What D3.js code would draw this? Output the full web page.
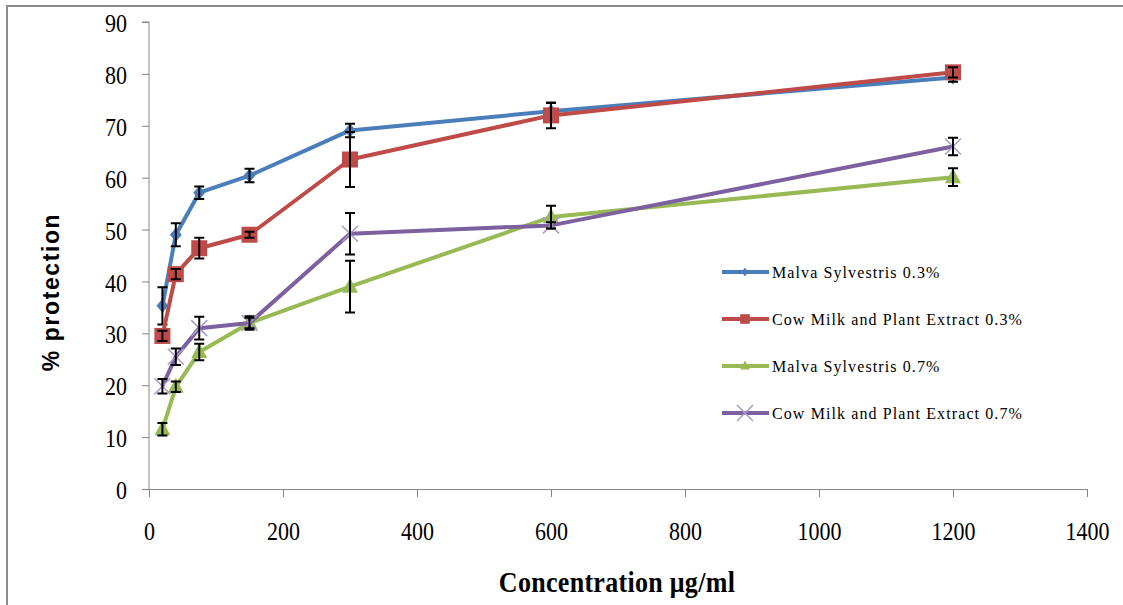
<!DOCTYPE html>
<html>
<head>
<meta charset="utf-8">
<script src="https://cdn.jsdelivr.net/npm/d3@7"></script>
<style>
  body { margin: 0; background: #fff; }
  .axis path, .axis line { stroke: #868686; }
</style>
</head>
<body>
<div class="chartDiv"></div>
<script>
var concentrations = [20, 40, 75, 150, 300, 600, 1200];

var seriesNames = [
  "Malva Sylvestris 0.3%",
  "Cow Milk and Plant Extract 0.3%",
  "Malva Sylvestris 0.7%",
  "Cow Milk and Plant Extract 0.7%"
];

var malva03 = [35.3, 49.0, 57.1, 60.4, 69.1, 72.8, 79.3];
var milk03 = [29.5, 41.4, 46.4, 49.0, 63.5, 72.0, 80.3];
var malva07 = [11.5, 19.7, 26.4, 32.0, 39.0, 52.4, 60.1];
var milk07 = [19.8, 25.5, 31.0, 32.0, 49.2, 50.8, 66.0];

var malva03Err = [3.6, 2.2, 1.2, 1.3, 1.3, 1.6, 0.8];
var milk03Err = [1.0, 1.0, 2.0, 0.6, 5.3, 2.5, 1.0];
var malva07Err = [1.2, 1.0, 1.6, 1.3, 5.0, 2.2, 1.7];
var milk07Err = [1.4, 1.6, 2.2, 1.0, 4.0, 0.6, 1.7];

var xTicks = [0, 200, 400, 600, 800, 1000, 1200, 1400];
var yTicks = [0, 10, 20, 30, 40, 50, 60, 70, 80, 90];

var colors = ["#4a7ebb", "#be4b48", "#98b954", "#7d60a0"];
var markers = ["diamond", "square", "triangle", "cross"];

var allValues = [malva03, milk03, malva07, milk07];
var allErrors = [malva03Err, milk03Err, malva07Err, milk07Err];

var serif = "Liberation Serif, serif";
var stretch = 1.15; // the original picture is a little taller than wide

var width = 1123, height = 605;
var margin = { top: 22, right: 36, bottom: 116, left: 149 };
var plotW = width - margin.left - margin.right,
    plotH = height - margin.top - margin.bottom;

var svg = d3.select(".chartDiv").append("svg")
  .attr("width", width)
  .attr("height", height);

// outer chart frame
svg.append("rect")
  .attr("x", 7).attr("y", 6)
  .attr("width", width).attr("height", height)
  .attr("fill", "none")
  .attr("stroke", "#8c8c8c")
  .attr("stroke-width", 2);

var g = svg.append("g")
  .attr("transform", "translate(" + margin.left + "," + margin.top + ")");

var x = d3.scaleLinear().domain([0, 1400]).range([0, plotW]);
var y = d3.scaleLinear().domain([0, 90]).range([plotH, 0]);

var xAxis = g.append("g")
  .attr("class", "axis")
  .attr("transform", "translate(0," + plotH + ")")
  .call(d3.axisBottom(x).tickValues(xTicks).tickFormat(d3.format("d"))
    .tickSizeInner(8).tickSizeOuter(8));

var yAxis = g.append("g")
  .attr("class", "axis")
  .call(d3.axisLeft(y).tickValues(yTicks).tickSizeInner(7).tickSizeOuter(7).tickPadding(15));
yAxis.select(".domain").attr("d", "M0," + plotH + "V0H-7");

[xAxis, yAxis].forEach(function(ax) {
  ax.attr("font-family", serif).attr("font-size", 22);
  ax.selectAll("text")
    .style("font-family", serif)
    .style("font-size", "22px")
    .style("fill", "#000")
    .attr("transform", "scale(1," + stretch + ")");
});

xAxis.selectAll("text")
  .attr("y", 51 / stretch)
  .attr("dy", 0);
yAxis.selectAll("text")
  .attr("dy", "0.38em");

// axis titles
svg.append("text")
  .attr("transform", "translate(" + (margin.left + plotW / 2 - 1) + ",592) scale(1,1.1)")
  .attr("text-anchor", "middle")
  .style("font-family", serif)
  .style("font-weight", "bold")
  .style("font-size", "26px")
  .style("letter-spacing", "0.3px")
  .text("Concentration μg/ml");

svg.append("text")
  .attr("transform", "translate(59,292) rotate(-90)")
  .attr("text-anchor", "middle")
  .style("font-family", "Liberation Sans, Arial, sans-serif")
  .style("font-weight", "bold")
  .style("font-size", "23px")
  .style("letter-spacing", "1.6px")
  .text("% protection");

var line = d3.line()
  .x(function(d, i) { return x(concentrations[i]); })
  .y(function(d) { return y(d); });

var drawMarker = function(sel, type, color, cx, cy) {
  if (type === "diamond") {
    sel.append("path")
      .attr("d", "M" + cx + "," + (cy - 7) + "L" + (cx + 6) + "," + cy + "L" + cx + "," + (cy + 7) + "L" + (cx - 6) + "," + cy + "Z")
      .attr("fill", color);
  } else if (type === "square") {
    sel.append("rect")
      .attr("x", cx - 8).attr("y", cy - 8)
      .attr("width", 16).attr("height", 16)
      .attr("fill", color);
  } else if (type === "triangle") {
    sel.append("path")
      .attr("d", "M" + cx + "," + (cy - 9) + "L" + (cx + 8) + "," + (cy + 6) + "L" + (cx - 8) + "," + (cy + 6) + "Z")
      .attr("fill", color);
  } else {
    sel.append("path")
      .attr("d", "M" + (cx - 8) + "," + (cy - 8) + "L" + (cx + 8) + "," + (cy + 8) + "M" + (cx + 8) + "," + (cy - 8) + "L" + (cx - 8) + "," + (cy + 8))
      .attr("stroke", "#a99bc9")
      .attr("stroke-width", 1.5)
      .attr("fill", "none");
  }
};

allValues.forEach(function(vals, s) {
  var sg = g.append("g").attr("class", "series");

  sg.append("path")
    .datum(vals)
    .attr("d", line)
    .attr("fill", "none")
    .attr("stroke", colors[s])
    .attr("stroke-width", 4)
    .attr("stroke-linejoin", "round");

  vals.forEach(function(v, i) {
    drawMarker(sg, markers[s], colors[s], x(concentrations[i]), y(v));
  });

  // error bars
  vals.forEach(function(v, i) {
    var cx = x(concentrations[i]), e = allErrors[s][i];
    var top = y(v + e), bot = y(v - e);
    sg.append("path")
      .attr("d", "M" + cx + "," + top + "V" + bot +
                 "M" + (cx - 5) + "," + top + "H" + (cx + 5) +
                 "M" + (cx - 5) + "," + bot + "H" + (cx + 5))
      .attr("stroke", "#000")
      .attr("stroke-width", 2)
      .attr("fill", "none");
  });
});

// legend
var legend = svg.append("g").attr("transform", "translate(722,272)");
seriesNames.forEach(function(name, s) {
  var row = legend.append("g").attr("transform", "translate(0," + (s * 47) + ")");
  row.append("line")
    .attr("x1", 0).attr("x2", 47)
    .attr("y1", 0).attr("y2", 0)
    .attr("stroke", colors[s])
    .attr("stroke-width", 4);
  if (markers[s] === "cross") {
    drawMarker(row, markers[s], colors[s], 23, 0);
  } else {
    var small = row.append("g").attr("transform", "translate(23,0) scale(0.6) translate(-23,0)");
    drawMarker(small, markers[s], colors[s], 23, 0);
  }
  row.append("text")
    .attr("x", 50).attr("y", 0)
    .attr("dy", "0.35em")
    .style("font-family", serif)
    .style("font-size", "16px")
    .style("letter-spacing", "1.1px")
    .text(name);
});
</script>
</body>
</html>
